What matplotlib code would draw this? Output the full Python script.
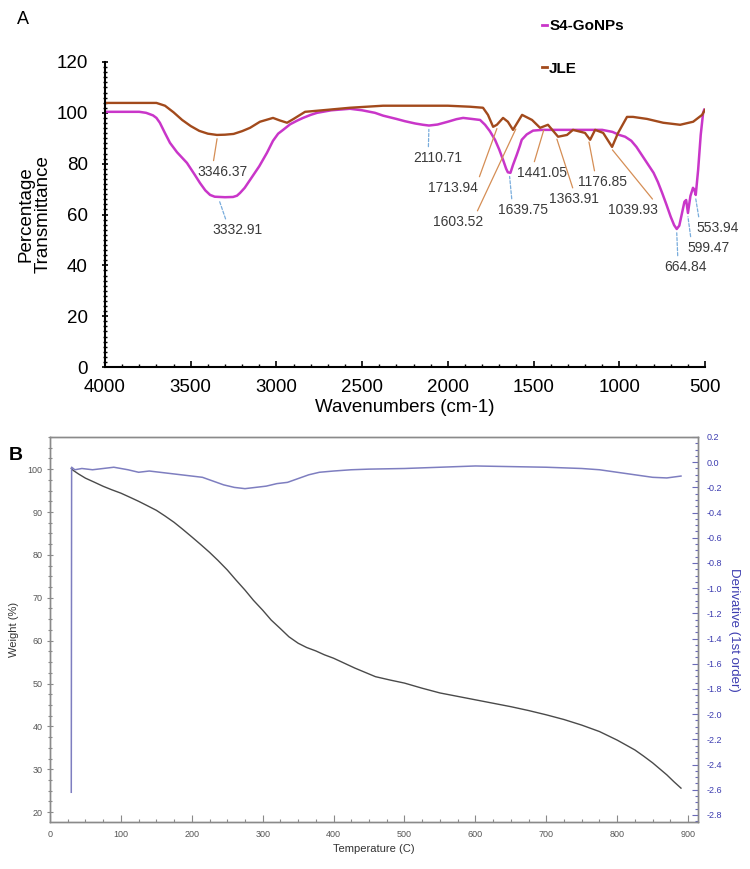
import numpy as np
import matplotlib
matplotlib.use("Agg")
import matplotlib.pyplot as plt
from matplotlib.ticker import MultipleLocator

plt.rcParams['font.family'] = ['Liberation Sans', 'DejaVu Sans']

# --- FTIR spectra (panel A) ---
s4_wn = [4000, 3800, 3760, 3720, 3700, 3680, 3650, 3621, 3580, 3522, 3480, 3446,
         3415, 3387, 3360, 3300, 3253, 3230, 3212, 3185, 3154, 3100, 3055, 3020,
         2990, 2961, 2920, 2880, 2845, 2800, 2763, 2680, 2571, 2500, 2425, 2378,
         2300, 2250, 2190, 2145, 2110, 2060, 2000, 1950, 1911, 1860, 1812, 1783,
         1755, 1725, 1700, 1678, 1660, 1650, 1635, 1620, 1598, 1580, 1569, 1540,
         1503, 1450, 1300, 1100, 1040, 1000, 966, 930, 900, 850, 800, 775, 750,
         725, 700, 680, 664.84, 650, 640, 620, 610, 599.47, 585, 570, 562, 553.94,
         540, 525, 511, 505]
s4_t = [100.4, 100.4, 100.0, 99.0, 98.0, 96.1, 92.0, 88.2, 84.5, 80.3, 76.0, 72.4,
        69.5, 67.7, 67.0, 66.8, 66.9, 67.4, 68.5, 70.5, 73.6, 79.0, 84.3, 89.0,
        91.8, 93.3, 95.5, 96.9, 98.0, 99.2, 100.0, 101.0, 101.6, 101.0, 100.0, 98.9,
        97.6, 96.7, 95.8, 95.3, 95.0, 95.4, 96.5, 97.5, 98.0, 97.6, 97.2, 95.3,
        92.8, 89.4, 85.5, 81.5, 78.0, 76.6, 76.4, 79.5, 83.5, 87.0, 89.4, 91.5,
        93.0, 93.3, 93.3, 93.3, 92.5, 91.3, 90.6, 89.0, 86.6, 81.5, 76.4, 72.8, 68.5,
        63.9, 59.1, 55.8, 54.3, 55.6, 58.7, 65.0, 65.7, 60.6, 67.3, 70.5, 69.7, 67.7,
        77.6, 91.3, 100.0, 101.2]

jle_wn = [4000, 3700, 3650, 3600, 3550, 3500, 3450, 3400, 3347, 3300, 3250, 3200,
          3154, 3096, 3020, 2980, 2938, 2900, 2833, 2700, 2571, 2378, 2000, 1870,
          1795, 1766, 1736, 1714, 1678, 1650, 1620, 1567, 1509, 1462, 1416, 1357,
          1305, 1270, 1200, 1170, 1141, 1094, 1042, 1007, 955, 920, 838, 744, 645,
          569, 517, 500]
jle_t = [103.9, 103.9, 102.8, 100.2, 97.2, 94.8, 92.9, 91.8, 91.3, 91.4, 91.7, 92.8,
         94.1, 96.5, 98.0, 97.0, 96.1, 97.6, 100.4, 101.2, 102.0, 102.8, 102.8, 102.4,
         102.0, 99.2, 94.5, 95.3, 98.0, 96.5, 93.3, 99.2, 97.2, 94.1, 95.3, 90.6,
         91.3, 93.3, 92.1, 89.4, 93.3, 92.1, 86.6, 92.1, 98.4, 98.4, 97.6, 96.1, 95.3,
         96.5, 99.2, 101.2]

s4_peaks = [3332.91, 2110.71, 1639.75, 664.84, 599.47, 553.94]
jle_peaks = [3346.37, 1713.94, 1603.52, 1441.05, 1363.91, 1176.85, 1039.93]

# --- TGA / DTG (panel B) ---
tga_temp = [30, 32, 40, 50, 62, 75, 87, 100, 112, 125, 137, 150, 162, 175, 187,
            200, 212, 225, 237, 250, 262, 275, 287, 300, 312, 325, 337, 350, 362,
            375, 387, 400, 430, 459, 480, 500, 525, 550, 575, 600, 625, 650, 675,
            700, 725, 750, 775, 800, 812, 825, 837, 850, 860, 870, 880, 890]
tga_weight = [100.2, 99.8, 98.9, 97.9, 97.0, 96.0, 95.2, 94.4, 93.5, 92.5, 91.5,
              90.4, 89.1, 87.6, 86.0, 84.2, 82.5, 80.6, 78.7, 76.5, 74.2, 71.8,
              69.4, 67.1, 64.8, 62.8, 60.9, 59.4, 58.4, 57.6, 56.7, 55.9, 53.6,
              51.6, 50.8, 50.1, 48.9, 47.8, 47.0, 46.2, 45.4, 44.6, 43.7, 42.7,
              41.6, 40.3, 38.8, 36.8, 35.7, 34.5, 33.1, 31.5, 30.1, 28.7, 27.1, 25.6]

dtg_temp = [30, 30.5, 35, 45, 60, 75, 90, 100, 110, 125, 140, 155, 170, 185, 200,
            215, 230, 245, 260, 275, 290, 305, 320, 335, 350, 365, 380, 400, 425,
            450, 500, 550, 600, 650, 700, 750, 775, 800, 825, 850, 870, 890]
dtg_val = [-2.62, -0.04, -0.06, -0.05, -0.06, -0.05, -0.04, -0.05, -0.06, -0.08,
           -0.07, -0.08, -0.09, -0.10, -0.11, -0.12, -0.15, -0.18, -0.20, -0.21,
           -0.20, -0.19, -0.17, -0.16, -0.13, -0.10, -0.08, -0.07, -0.06, -0.055,
           -0.05, -0.04, -0.03, -0.035, -0.04, -0.05, -0.06, -0.08, -0.10, -0.12,
           -0.125, -0.11]

# label text placement (wavenumber, %T) and where the leader line meets the text
label_pos = {
    3332.91: (3230, 53.9, 0.30), 2110.71: (2057, 82.3, 0.30),
    1639.75: (1561, 61.8, 0.28), 664.84: (616, 39.4, 0.33),
    599.47: (482, 46.9, 0.10), 553.94: (429, 54.7, 0.08),
    3346.37: (3312, 76.8, 0.30), 1713.94: (1970, 70.5, 1.00),
    1603.52: (1941, 57.1, 0.85), 1441.05: (1450, 76.4, 0.32),
    1363.91: (1264, 66.1, 0.50), 1176.85: (1100, 72.8, 0.36),
    1039.93: (919, 61.8, 0.95),
}

s4_color = '#c936c9'
jle_color = '#a24a1c'

fig = plt.figure(figsize=(7.5, 8.69), dpi=100)

# ---------------- panel A ----------------
axA = fig.add_axes([0.14, 1 - 367 / 869, 0.80, 305 / 869])
axA.plot(s4_wn, s4_t, color=s4_color, lw=1.8, label='S4-GoNPs')
axA.plot(jle_wn, jle_t, color=jle_color, lw=1.7, label='JLE')
axA.set_xlim(4000, 500)
axA.set_ylim(0, 120)
axA.xaxis.set_major_locator(MultipleLocator(500))
axA.xaxis.set_minor_locator(MultipleLocator(100))
axA.yaxis.set_major_locator(MultipleLocator(20))
axA.yaxis.set_minor_locator(MultipleLocator(2))
for s in ('top', 'right'):
    axA.spines[s].set_visible(False)
for s in ('left', 'bottom'):
    axA.spines[s].set_linewidth(1.5)
axA.tick_params(axis='both', which='major', labelsize=13.5, direction='in',
                length=4, width=1.2)
axA.tick_params(axis='both', which='minor', direction='in', length=2.5, width=1)
axA.tick_params(axis='x', which='major', pad=9)
axA.tick_params(axis='y', which='major', pad=10, direction='inout', length=5)
axA.tick_params(axis='y', which='minor', direction='inout', length=3)
axA.set_xlabel('Wavenumbers (cm-1)', fontsize=13.5, labelpad=2)
axA.set_ylabel('Percentage\nTransmittance', fontsize=13.5, labelpad=3,
               linespacing=1.05)

def annotate_peaks(peaks, wn, tr, color, dashed):
    wn_r = np.asarray(wn)[::-1]
    tr_r = np.asarray(tr)[::-1]
    for p in peaks:
        tx, ty, rx = label_pos[p]
        tip = np.interp(p, wn_r, tr_r) - 1.5
        props = dict(arrowstyle='-', color=color, lw=0.9, shrinkA=1, shrinkB=0,
                     relpos=(rx, 1.0))
        if dashed:
            props['linestyle'] = (0, (2.5, 1.5))
        axA.annotate(f'{p:.2f}', xy=(p, tip), xytext=(tx, ty), ha='center',
                     va='center', fontsize=10, color='#3a3a3a',
                     arrowprops=props, annotation_clip=False)

annotate_peaks(s4_peaks, s4_wn, s4_t, '#78acdc', True)
annotate_peaks(jle_peaks, jle_wn, jle_t, '#d58e55', False)

leg = fig.legend(loc='upper left', bbox_to_anchor=(0.722, 0.978), frameon=False,
                 handlelength=0.35, handletextpad=0.15, labelspacing=1.88,
                 borderpad=0, borderaxespad=0,
                 prop={'weight': 'bold', 'size': 11})
for h in leg.get_lines():
    h.set_linewidth(2)

fig.text(0.022, 1 - 20 / 869, 'A', fontsize=13, va='center')

# ---------------- panel B ----------------
gray = '#8a8a8a'
blue_txt = '#3c3cb0'
axB = fig.add_axes([50 / 750, 1 - 822 / 869, 648 / 750, 385 / 869])
axB.plot(tga_temp, tga_weight, color='#4a4a4a', lw=1.0)
axB.set_xlim(0, 914)
axB.set_ylim(17.7, 107.5)
axB.xaxis.set_major_locator(MultipleLocator(100))
axB.xaxis.set_minor_locator(MultipleLocator(25))
axB.yaxis.set_major_locator(MultipleLocator(10))
axB.yaxis.set_minor_locator(MultipleLocator(2.5))
axB.set_yticks(range(20, 101, 10))
for s in axB.spines.values():
    s.set_color(gray)
    s.set_linewidth(1.0)
axB.tick_params(axis='both', which='both', colors=gray, labelcolor='#555555',
                labelsize=6.5, width=0.8)
axB.tick_params(axis='x', which='major', direction='in', length=5, pad=6)
axB.tick_params(axis='x', which='minor', direction='in', length=2.5)
axB.tick_params(axis='y', which='major', direction='inout', length=5, pad=3)
axB.tick_params(axis='y', which='minor', direction='inout', length=3)
axB.set_xlabel('Temperature (C)', fontsize=8, color='#333333', labelpad=3)
axB.set_ylabel('Weight (%)', fontsize=8, color='#333333', labelpad=6)

axD = axB.twinx()
axD.plot(dtg_temp, dtg_val, color='#7e7ec0', lw=1.1)
axD.set_ylim(-2.856, 0.2)
axD.yaxis.set_major_locator(MultipleLocator(0.2))
axD.yaxis.set_minor_locator(MultipleLocator(0.05))
axD.set_yticks(np.round(np.arange(-2.8, 0.21, 0.2), 1))
axD.yaxis.set_major_formatter(plt.FuncFormatter(lambda v, _: f'{v:.1f}'.replace('-0.0', '0.0')))
for s in axD.spines.values():
    s.set_color(gray)
    s.set_linewidth(1.0)
axD.tick_params(axis='y', which='both', colors='#6a6ab8', labelcolor=blue_txt,
                labelsize=6.5, direction='in', width=0.8)
axD.tick_params(axis='y', which='major', length=4, pad=6)
axD.tick_params(axis='y', which='minor', length=2)
axD.set_ylabel('Derivative (1st order)', fontsize=9.5, color=blue_txt,
               rotation=270, labelpad=13)

fig.text(0.012, 1 - 455 / 869, 'B', fontsize=14, fontweight='bold', va='center')

fig.savefig('out.png', dpi=100)
